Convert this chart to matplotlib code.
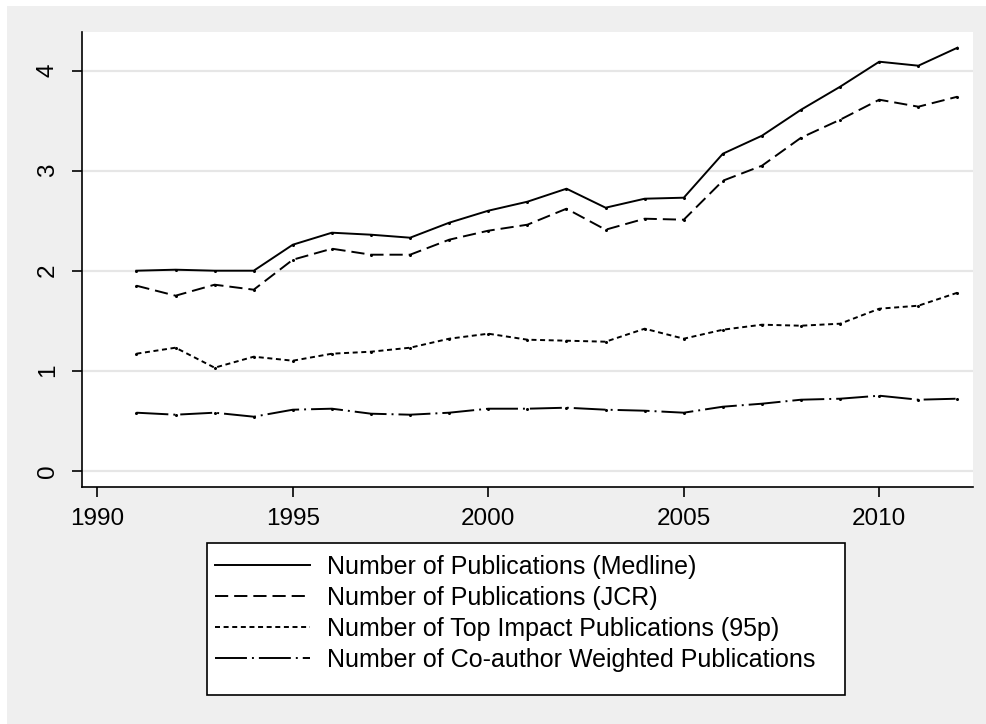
import matplotlib
matplotlib.use("Agg")
import matplotlib.pyplot as plt
from matplotlib.patches import Rectangle

years = list(range(1991, 2013))
medline = [2.00, 2.01, 2.00, 2.00, 2.26, 2.38, 2.36, 2.33, 2.48, 2.60, 2.69,
           2.82, 2.63, 2.72, 2.73, 3.17, 3.35, 3.61, 3.84, 4.09, 4.05, 4.23]
jcr = [1.85, 1.75, 1.86, 1.81, 2.11, 2.22, 2.16, 2.16, 2.31, 2.40, 2.46,
       2.62, 2.41, 2.52, 2.51, 2.90, 3.05, 3.33, 3.51, 3.71, 3.64, 3.74]
top95 = [1.17, 1.23, 1.03, 1.14, 1.10, 1.17, 1.19, 1.23, 1.32, 1.37, 1.31,
         1.30, 1.29, 1.42, 1.32, 1.41, 1.46, 1.45, 1.47, 1.62, 1.65, 1.78]
coauth = [0.58, 0.56, 0.58, 0.54, 0.61, 0.62, 0.57, 0.56, 0.58, 0.62, 0.62,
          0.63, 0.61, 0.60, 0.58, 0.64, 0.67, 0.71, 0.72, 0.75, 0.71, 0.72]
labels = ["Number of Publications (Medline)",
          "Number of Publications (JCR)",
          "Number of Top Impact Publications (95p)",
          "Number of Co-author Weighted Publications"]
xticks = [1990, 1995, 2000, 2005, 2010]
yticks = [0, 1, 2, 3, 4]

plt.rcParams['font.family'] = ['Liberation Sans', 'DejaVu Sans']
plt.rcParams['lines.scale_dashes'] = False

W, H = 986, 724
fig = plt.figure(figsize=(W / 100, H / 100), dpi=100, facecolor='white')
bg = '#efefef'
fig.patches.append(Rectangle((7 / W, 0), 1 - 7 / W, 1 - 6 / H,
                             transform=fig.transFigure, facecolor=bg,
                             edgecolor='none', zorder=-10))

left, right, top, bottom = 81.7, 972.7, 32.3, 486.7
ax = fig.add_axes([left / W, 1 - bottom / H, (right - left) / W, (bottom - top) / H])
ax.set_facecolor('white')

styles = [
    dict(linestyle='-'),
    dict(linestyle=(0, (9.5, 4.3))),
    dict(linestyle=(0, (3.6, 2.6))),
    dict(linestyle=(0, (23, 3.6, 1.4, 3.6))),
]
series = [medline, jcr, top95, coauth]
handles = []
for s, st, lab in zip(series, styles, labels):
    h, = ax.plot(years, s, color='black', lw=1.4, marker='o', markersize=2.2,
                 markeredgewidth=0, label=lab, **st)
    handles.append(h)

ax.set_xlim(1989.6, 2012.39)
ax.set_ylim(-0.16, 4.384)
ax.set_xticks(xticks)
ax.set_yticks(yticks)
ax.set_yticklabels([str(v) for v in yticks], rotation=90, va='center')
ax.grid(axis='y', color='#e6e6e6', lw=1.6)
ax.set_axisbelow(True)
for sp in ['top', 'right']:
    ax.spines[sp].set_visible(False)
for sp in ['left', 'bottom']:
    ax.spines[sp].set_linewidth(1.2)
ax.tick_params(axis='both', labelsize=17.5, length=7, width=1.2, color='black')
ax.tick_params(axis='y', pad=9.5)
ax.tick_params(axis='x', pad=8)

# legend frame
fig.patches.append(Rectangle((207 / W, 1 - 695 / H), (845 - 207) / W, (695 - 543) / H,
                             transform=fig.transFigure, facecolor='white',
                             edgecolor='black', lw=1.2, zorder=1))
leg = fig.legend(handles=handles, labels=labels, loc='upper left',
                 bbox_to_anchor=(215 / W, 1 - 555 / H), fontsize=18,
                 frameon=False, handlelength=3.8, handletextpad=0.68,
                 labelspacing=0.28, borderpad=0, borderaxespad=0)
leg.set_zorder(2)
for lh in leg.get_lines():
    lh.set_marker('')

fig.savefig('out.png', dpi=100, facecolor='white')
